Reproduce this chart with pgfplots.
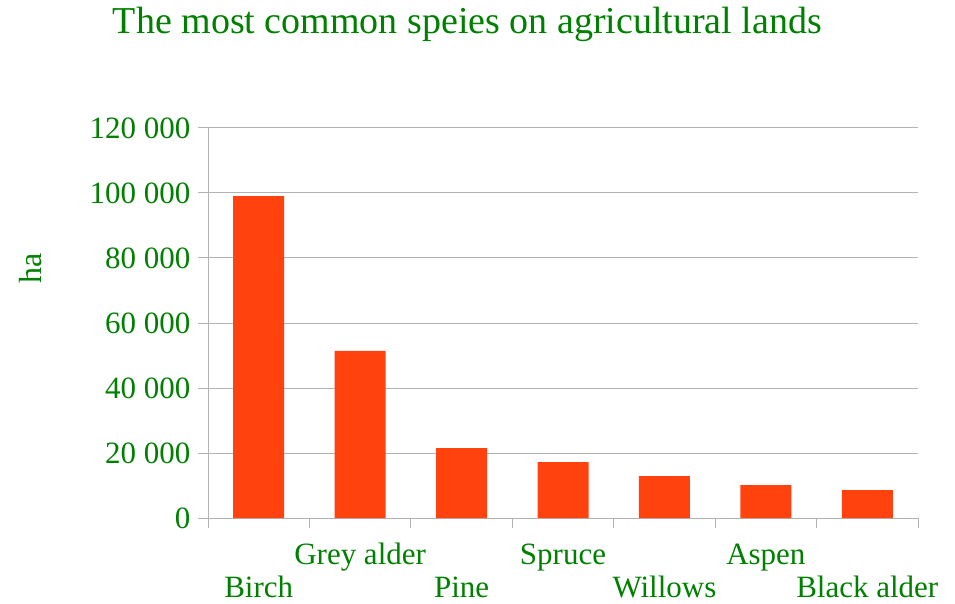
\documentclass[border=0pt]{standalone}
\usepackage{fontspec}
\setmainfont{Liberation Serif}
\usepackage{pgfplots}
\pgfplotsset{compat=1.18}
\definecolor{barc}{HTML}{FF420E}
\definecolor{txt}{HTML}{008000}
\definecolor{gridc}{HTML}{B3B3B3}
\begin{document}
\begin{tikzpicture}[x=1pt,y=1pt]
\useasboundingbox (0,0) rectangle (955,603);
\begin{axis}[
  at={(208pt,85pt)}, anchor=south west,
  scale only axis, width=710pt, height=390pt,
  xmin=-0.5, xmax=6.5, ymin=0, ymax=120000,
  axis lines*=left,
  axis line style={draw=gridc, line width=1pt},
  scaled y ticks=false,
  ytick={0,20000,40000,60000,80000,100000,120000},
  yticklabels={0,20 000,40 000,60 000,80 000,100 000,120 000},
  ymajorgrids, grid style={draw=gridc, line width=1pt},
  tick align=outside, major tick length=10pt,
  tick style={draw=gridc, line width=1pt},
  xtick={-0.5,0.5,1.5,2.5,3.5,4.5,5.5,6.5},
  xticklabels={},
  extra x ticks={0,1,2,3,4,5,6},
  extra x tick labels={\raisebox{-33pt}{Birch},Grey alder,\raisebox{-33pt}{Pine},Spruce,\raisebox{-33pt}{Willows},Aspen,\raisebox{-33pt}{Black alder}},
  extra x tick style={major tick length=0pt, xticklabel style={anchor=base, yshift=-46pt}},
  xticklabel style={font=\fontsize{31}{31}\selectfont, text=txt},
  yticklabel style={font=\fontsize{31}{31}\selectfont, text=txt, xshift=-4pt},
  ylabel={ha},
  ylabel style={at={(rel axis cs:-0.25,0.641)}, anchor=center, font=\fontsize{32}{32}\selectfont, text=txt},
  title={The most common speies on agricultural lands},
  title style={at={(rel axis cs:0.3655,1.228)}, anchor=base, font=\fontsize{38}{38}\selectfont, text=txt},
]
\addplot[ybar, bar width=51pt, fill=barc, draw=none] coordinates {(0,99000) (1,51400) (2,21500) (3,17200) (4,12900) (5,10100) (6,8600)};
\end{axis}
\end{tikzpicture}
\end{document}
